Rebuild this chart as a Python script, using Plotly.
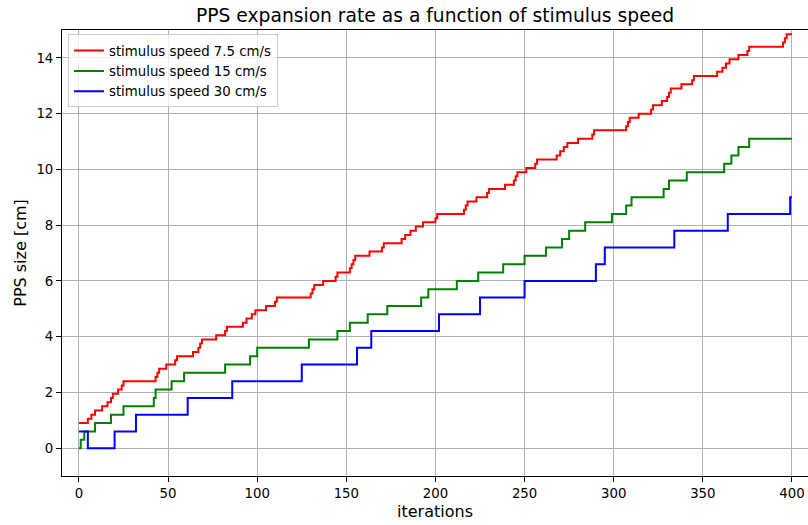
import plotly.graph_objects as go

# ---- data (change points of each step series) ----
red_x = [0, 5, 7, 9, 13, 16, 18, 19, 22, 24, 25, 43, 44, 45, 49, 54, 55, 64, 67, 68, 69,
         77, 82, 83, 92, 94, 97, 99, 105, 110, 111, 130, 131, 132, 137, 144, 145, 152, 153,
         154, 155, 163, 170, 171, 181, 183, 186, 189, 193, 200, 201, 216, 217, 218, 223,
         229, 230, 239, 244, 245, 246, 251, 256, 257, 268, 270, 272, 274, 280, 288, 289,
         307, 308, 309, 314, 321, 322, 327, 330, 331, 332, 338, 344, 345, 358, 361, 363,
         365, 370, 375, 376, 395, 396, 397, 400]
red_y = [0.9, 1.05, 1.2, 1.35, 1.5, 1.65, 1.8, 1.95, 2.1, 2.25, 2.4, 2.55, 2.7, 2.85, 3.0,
         3.15, 3.3, 3.45, 3.6, 3.75, 3.9, 4.05, 4.2, 4.35, 4.5, 4.65, 4.8, 4.95, 5.1, 5.25,
         5.4, 5.55, 5.7, 5.85, 6.0, 6.15, 6.3, 6.45, 6.6, 6.75, 6.9, 7.05, 7.2, 7.35, 7.5,
         7.65, 7.8, 7.95, 8.1, 8.25, 8.4, 8.55, 8.7, 8.85, 9.0, 9.15, 9.3, 9.45, 9.6, 9.75,
         9.9, 10.05, 10.2, 10.35, 10.5, 10.65, 10.8, 10.95, 11.1, 11.25, 11.4, 11.55, 11.7,
         11.85, 12.0, 12.15, 12.3, 12.45, 12.6, 12.75, 12.9, 13.05, 13.2, 13.35, 13.5,
         13.65, 13.8, 13.95, 14.1, 14.25, 14.4, 14.55, 14.7, 14.85, 14.85]

green_x = [0, 1, 3, 9, 18, 25, 42, 43, 52, 59, 82, 96, 100, 129, 145, 152, 162, 173, 192,
           196, 212, 224, 238, 250, 262, 271, 275, 284, 299, 307, 310, 328, 331, 341, 362,
           366, 370, 376, 400]
green_y = [0.0, 0.3, 0.6, 0.9, 1.2, 1.5, 1.8, 2.1, 2.4, 2.7, 3.0, 3.3, 3.6, 3.9, 4.2, 4.5,
           4.8, 5.1, 5.4, 5.7, 6.0, 6.3, 6.6, 6.9, 7.2, 7.5, 7.8, 8.1, 8.4, 8.7, 9.0, 9.3,
           9.6, 9.9, 10.2, 10.5, 10.8, 11.1, 11.1]

blue_x = [0, 5, 20, 32, 61, 86, 125, 156, 164, 202, 225, 250, 290, 295, 334, 364, 399, 400]
blue_y = [0.6, 0.0, 0.6, 1.2, 1.8, 2.4, 3.0, 3.6, 4.2, 4.8, 5.4, 6.0, 6.6, 7.2, 7.8, 8.4,
          9.0, 9.0]

series_names = ["stimulus speed 7.5 cm/s", "stimulus speed 15 cm/s", "stimulus speed 30 cm/s"]
series_colors = ["#ff0000", "#008000", "#0000ff"]

x_ticks = [0, 50, 100, 150, 200, 250, 300, 350, 400]
y_ticks = [0, 2, 4, 6, 8, 10, 12, 14]

title_text = "PPS expansion rate as a function of stimulus speed"
x_label = "iterations"
y_label = "PPS size [cm]"

FONT = "DejaVu Sans"

fig = go.Figure()
for xs, ys, name, col in zip([red_x, green_x, blue_x], [red_y, green_y, blue_y],
                             series_names, series_colors):
    fig.add_trace(go.Scatter(x=xs, y=ys, mode="lines", name=name,
                             line=dict(color=col, width=2, shape="hv")))

axis_common = dict(
    showgrid=True, gridcolor="#b0b0b0", gridwidth=1,
    zeroline=False, showline=True, linecolor="black", linewidth=1,
    ticks="outside", ticklen=5, tickwidth=1, tickcolor="black",
    tickfont=dict(family=FONT, size=13.3, color="black"),
)

fig.update_layout(
    width=808, height=525,
    margin=dict(l=62, r=0, t=30, b=49),
    paper_bgcolor="white", plot_bgcolor="white",
    title=dict(text=title_text, x=0.5, xref="paper", xanchor="center",
               y=0.97, yref="container", yanchor="middle",
               font=dict(family=FONT, size=18.7, color="black")),
    xaxis=dict(range=[-9.5, 409], tickvals=x_ticks, mirror=True,
               title=dict(text=x_label, font=dict(family=FONT, size=16, color="black"),
                          standoff=5),
               **axis_common),
    yaxis=dict(range=[-1, 15], tickvals=y_ticks, mirror=False,
               title=dict(text=y_label, font=dict(family=FONT, size=16, color="black"),
                          standoff=5),
               **axis_common),
    legend=dict(x=0.008, y=0.99, xanchor="left", yanchor="top",
                bgcolor="rgba(255,255,255,0.8)", bordercolor="#cccccc", borderwidth=1,
                font=dict(family=FONT, size=13.3, color="black"),
                tracegroupgap=0, itemwidth=30),
    showlegend=True,
)

fig.write_html("out.html")
